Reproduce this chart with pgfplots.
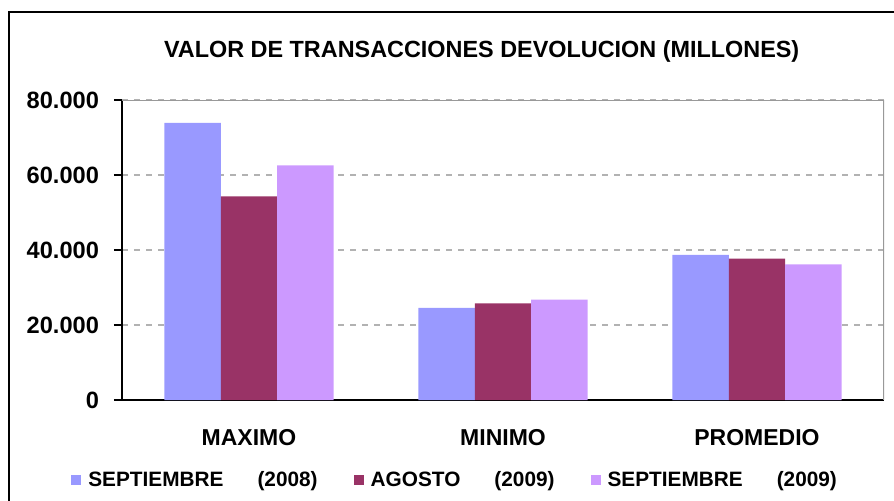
\documentclass[border=0pt]{standalone}
\usepackage{fontspec}
\setmainfont{Liberation Sans}
\usepackage{pgfplots}
\pgfplotsset{compat=1.18}

\definecolor{serA}{HTML}{9999FF}
\definecolor{serB}{HTML}{993366}
\definecolor{serC}{HTML}{CC99FF}

\begin{document}
\begin{tikzpicture}
\useasboundingbox (0,0) rectangle (447pt,250pt);
% marco exterior
\draw[line width=1pt] (4.25pt,-2pt) -- (4.25pt,244pt) -- (449pt,244pt);
\begin{axis}[
    at={(61pt,50pt)}, anchor=south west,
    scale only axis,
    width=381pt, height=150pt,
    xmin=-0.5, xmax=2.5,
    ymin=0, ymax=80000,
    ytick={0,20000,40000,60000,80000},
    xtick={0,1,2},
    xticklabels={MAXIMO, MINIMO, PROMEDIO},
    major x tick style={draw=none},
    extra x ticks={-0.5,0.5,1.5,2.5},
    extra x tick labels={},
    extra x tick style={grid=none, major tick length=4pt, tick align=outside,
        tick style={draw=black, line width=0.8pt}},
    axis x line*=bottom, axis y line*=left,
    axis line style={-, line width=1pt, black},
    tick align=outside,
    major tick length=4pt,
    ytick style={line width=0.8pt, black},
    ymajorgrids,
    grid style={dashed, gray!60, line width=0.6pt},
    /pgf/number format/assume math mode=true,
    /pgf/number format/.cd, fixed, 1000 sep={.}, /pgfplots/.cd,
    scaled y ticks=false,
    yticklabel style={font=\fontsize{11.8}{14}\selectfont\bfseries, xshift=-4pt},
    xticklabel style={font=\fontsize{11.5}{14}\selectfont\bfseries, anchor=center, yshift=-15pt},
    title={VALOR DE TRANSACCIONES DEVOLUCION (MILLONES)},
    title style={at={(axis description cs:0.472,1.123)}, anchor=center,
        font=\fontsize{11.7}{14}\selectfont\bfseries},
    legend columns=3,
    legend style={at={(axis description cs:-0.067,-0.267)}, anchor=west,
        draw=none, fill=none, inner sep=0pt,
        font=\fontsize{10.4}{12}\selectfont\bfseries,
        nodes={inner sep=0pt},
        /tikz/every odd column/.append style={column sep=3.5pt},
        /tikz/every even column/.append style={column sep=18pt}},
    legend image code/.code={\fill[#1] (0pt,-2.5pt) rectangle (5pt,2.5pt);},
    bar width=0.2224,
]
\addplot[ybar, fill=serA, draw=none, bar shift=-0.2224] coordinates {
    (0,73900) (1,24600) (2,38700)};
\addplot[ybar, fill=serB, draw=none, bar shift=0] coordinates {
    (0,54300) (1,25800) (2,37700)};
\addplot[ybar, fill=serC, draw=none, bar shift=0.2224] coordinates {
    (0,62600) (1,26800) (2,36200)};
\legend{SEPTIEMBRE\hspace{17pt}(2008), AGOSTO\hspace{17pt}(2009), SEPTIEMBRE\hspace{17pt}(2009)}
\draw[gray!80, line width=0.8pt] (rel axis cs:0,1) -- (rel axis cs:1,1) -- (rel axis cs:1,0);
\end{axis}
\end{tikzpicture}
\end{document}
